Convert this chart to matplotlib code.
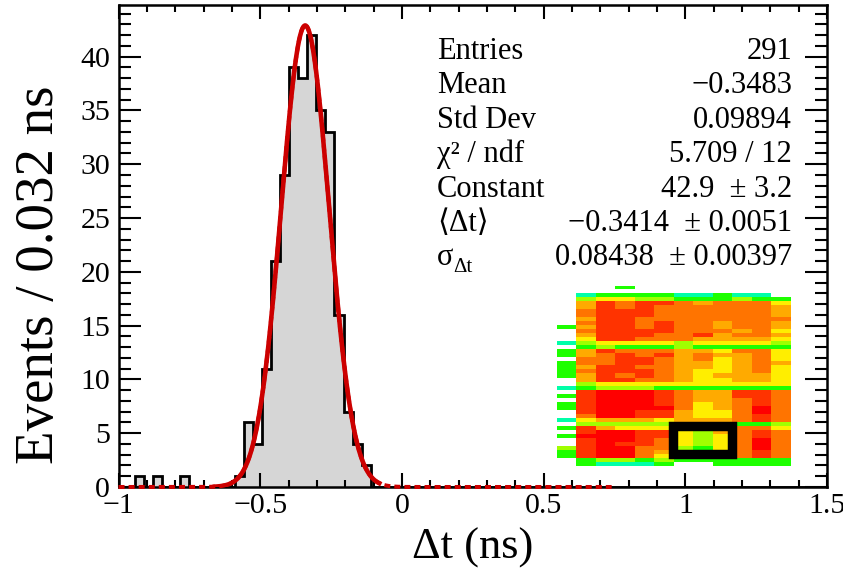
import numpy as np
import matplotlib
matplotlib.use("Agg")
import matplotlib.pyplot as plt
from matplotlib.patches import Rectangle
from matplotlib.colors import to_rgba

plt.rcParams["font.family"] = ["Liberation Serif", "DejaVu Serif"]
plt.rcParams["mathtext.fontset"] = "stix"

# histogram of time differences, 0.032 ns bins
bin_width = 0.032
first_edge = -0.974
counts = [0, 1, 0, 1, 0, 0, 1, 0, 0, 0, 0, 0,
          1, 6, 4, 11, 21, 29, 39, 38, 42, 35, 33, 16, 7, 4, 2] + [0] * 50

# gaussian fit
fit_const = 42.9
fit_mean = -0.3414
fit_sigma = 0.08438
fit_range = (-0.66, -0.08)
draw_range = (-1.0, 0.74)

# stats box
stat_labels = ["Entries", "Mean", "Std Dev", "χ² / ndf", "Constant", "⟨Δt⟩", "σ"]
stat_values = ["291", "\u22120.3483", "0.09894", "5.709 / 12", "42.9  \u00b1 3.2",
               "\u22120.3414  \u00b1 0.0051", "0.08438  \u00b1 0.00397"]

# inset map: left column + 11 module columns, one char per cell
palette = {"c": "#00ffa8", "g": "#1eff00", "l": "#a0ff00", "y": "#ffee00",
           "a": "#ffaa00", "o": "#ff7400", "r": "#ff3300", "R": "#ff0000"}
map_left = "          g   c gg gggg  c g gg  c g g  lgg  "
map_rows = [
    "  g        ",
    "           ",
    "cggggccgcc ",
    "lyyllggglgg",
    "arorroaoooy",
    "arorooooooa",
    "orrrooooooa",
    "orrrooooooa",
    "arroooooooo",
    "orrorooaooa",
    "arrorooaooa",
    "orrrroooaoy",
    "arrrooraooa",
    "yrroooaaaay",
    "lyyyylyyyyl",
    "glggglggggg",
    "aroooaayooy",
    "aororaoaaoy",
    "oorroaoyaoy",
    "oorroaayaoa",
    "arrooaayaoy",
    "orrroayyaoy",
    "aroroayaaay",
    "arrooayyaay",
    "lyyyyyyyyyy",
    "glllggggggg",
    "rRRRroaarro",
    "rRRRroaarro",
    "rRRRroaaoro",
    "rRRRroyaoro",
    "rRRRRoyaoRo",
    "rRRrrayyoRo",
    "oRRrrayyoro",
    "yaaayaaaoro",
    "llllllllggl",
    "rayyyyyyooy",
    "rRRrrylaoro",
    "RRRrrylyoro",
    "rRRroylyoRo",
    "rRrroylyoRo",
    "rRRoolgyoRo",
    "rRRoayaaoro",
    "rRRoyyyyoro",
    "gllglgggggg",
    "gcccg  gggg",
]
highlight_cols = (6, 9)
highlight_rows = (35, 42)

edges = first_edge + bin_width * np.arange(len(counts) + 1)

fig = plt.figure(figsize=(8.43, 5.70), dpi=100)
ax = fig.add_axes([0.1406, 0.1456, 0.8405, 0.8456])

ax.stairs(counts, edges, fill=True, color="#d6d6d6", zorder=1)
ax.stairs(counts, edges, color="black", linewidth=2.0, zorder=2)

gauss = lambda x: fit_const * np.exp(-0.5 * ((x - fit_mean) / fit_sigma) ** 2)
xd = np.linspace(draw_range[0], draw_range[1], 600)
ax.plot(xd, gauss(xd), color="#cc0000", linewidth=2.9, dashes=(1.5, 1.0),
        zorder=3, clip_on=False)
xf = np.linspace(fit_range[0], fit_range[1], 400)
ax.plot(xf, gauss(xf), color="#cc0000", linewidth=3.3, zorder=4)

ax.set_xlim(-1, 1.5)
ax.set_ylim(0, 44.8)
ax.set_xticks(np.arange(-1, 1.51, 0.5))
ax.set_xticks(np.arange(-1, 1.51, 0.1), minor=True)
ax.set_yticks(np.arange(0, 41, 5))
ax.set_yticks(np.arange(0, 45, 1), minor=True)
ax.set_xticklabels(["\u22121", "\u22120.5", "0", "0.5", "1", "1.5"])
ax.tick_params(which="both", direction="in", top=True, right=True, width=1.5,
               labelsize=21.5)
ax.tick_params(axis="x", which="major", length=10, pad=4)
ax.tick_params(axis="x", which="minor", length=5)
ax.tick_params(axis="y", which="major", length=16, pad=6)
ax.tick_params(axis="y", which="minor", length=8.5)
for s in ax.spines.values():
    s.set_linewidth(1.8)

ax.set_xlabel("Δt (ns)", fontsize=32, va="center")
ax.xaxis.set_label_coords(0.5, -0.127)
ax.set_ylabel("Events / 0.032 ns", fontsize=39.5, va="center")
ax.yaxis.set_label_coords(-0.111, 0.44)

for i, (lab, val) in enumerate(zip(stat_labels, stat_values)):
    yb = 0.888 - i * 0.0714
    ax.text(0.4495, yb, lab, transform=ax.transAxes, fontsize=22, va="baseline", ha="left")
    ax.text(0.9506, yb, val, transform=ax.transAxes, fontsize=22, va="baseline", ha="right")
ax.text(0.472, 0.888 - 6 * 0.0714 - 0.013, "Δt", transform=ax.transAxes,
        fontsize=15, va="baseline", ha="left")

# inset image
n_rows = len(map_rows)
img = np.ones((n_rows, 12, 4))
img[:, :, 3] = 0
for i, row in enumerate(map_rows):
    cells = map_left[i] + row
    for j, ch in enumerate(cells):
        if ch != " ":
            img[i, j] = to_rgba(palette[ch])
ins = fig.add_axes([0.6603, 0.1825, 0.2768, 0.3158])
ins.imshow(img, aspect="auto", interpolation="nearest", extent=(0, 12, n_rows, 0))
ins.add_patch(Rectangle((highlight_cols[0], highlight_rows[0]),
                        highlight_cols[1] - highlight_cols[0],
                        highlight_rows[1] - highlight_rows[0],
                        fill=False, edgecolor="black", linewidth=6.8))
ins.set_xlim(0, 12)
ins.set_ylim(n_rows, 0)
ins.axis("off")

fig.savefig("out.png", dpi=100)
